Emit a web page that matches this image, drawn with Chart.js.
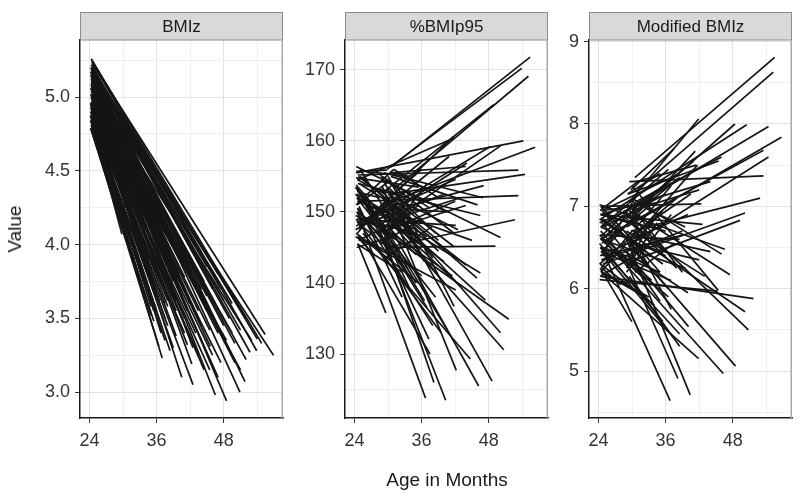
<!DOCTYPE html>
<html>
<head>
<meta charset="utf-8">
<script src="https://cdn.jsdelivr.net/npm/chart.js@4.4.1/dist/chart.umd.min.js"></script>
<style>
  html, body { margin: 0; padding: 0; background: #fff; }
  #wrap { position: relative; width: 800px; height: 496px; overflow: hidden; font-family: "Liberation Sans", Arial, sans-serif; }
  canvas { position: absolute; top: 12px; }
  .title { position: absolute; color: #1a1a1a; font-size: 19px; white-space: nowrap; transform: translate(-50%, -50%); }
  #ytitle { left: 15px; top: 229px; transform: translate(-50%, -50%) rotate(-90deg); }
  #xtitle { left: 447px; top: 480px; }
</style>
</head>
<body>
<div id="wrap">
  <canvas id="p1" width="268" height="446" style="left:18px"></canvas>
  <canvas id="p2" width="268" height="446" style="left:283px"></canvas>
  <canvas id="p3" width="268" height="446" style="left:527px"></canvas>
  <div class="title" id="ytitle">Value</div>
  <div class="title" id="xtitle">Age in Months</div>
</div>
<script>
// shared age axis
const ageTicks = [24, 30, 36, 42, 48, 54];
const ageLabels = [24, 36, 48];

// BMIz panel: one segment per child (first visit -> last visit)
const bmizAge0 = [24.3,24.5,24.6,24.4,24.5,24.8,24.4,24.6,24.3,24.5, 24.2,24.5,24.4,24.3,24.4,24.6,24.5,24.7,24.3,24.2,
  24.6,24.3,24.8,24.5,24.4,25.0,24.2,24.6,24.3,24.9, 24.5,24.7,24.4,24.2,25.2,24.3,24.6,24.5,24.8,24.4,
  24.6,25.5,24.2,24.5,24.3,24.7,24.4,25.0,24.2,24.6, 24.8,24.3,24.5,24.9,24.4,24.6,25.3,24.3,24.5,24.7,
  24.3,24.5,24.2,24.7,24.4,24.6,24.3,24.8,24.5,24.2, 24.6,24.4,24.9,24.3,24.5,24.7,24.4,24.2,24.6,24.3,
  24.5,24.8,24.4,24.6,24.3,24.7,24.2,24.5,24.4,25.0, 24.3,24.6,24.8,24.5,24.2,24.4,24.6,24.3,24.7,24.5,
  24.4,24.6,24.3,24.5,24.7,24.2,24.5,24.8,24.4,24.6, 24.3,24.5,24.9,24.4,24.6,24.2,24.7,24.5,24.3,24.6,
  24.4,24.8,24.5,24.3,24.6,24.2,24.7,24.5,24.4,24.6];
const bmizVal0 = [4.78,4.80,4.95,5.05,4.85,5.00,5.10,5.08,5.20,5.22, 5.15,5.18,5.25,5.26,5.24,5.12,5.05,4.92,4.85,4.90,
  4.82,5.00,4.76,4.88,4.95,4.80,5.02,4.98,5.12,4.86, 4.78,5.06,4.90,4.84,4.95,5.08,5.16,5.20,4.90,4.80,
  5.00,4.85,4.93,5.10,4.97,4.88,5.04,5.14,4.79,4.92, 5.02,5.18,4.87,4.98,5.00,4.84,4.90,5.22,4.95,5.10,
  5.14,4.97,5.06,4.83,5.18,5.03,4.91,5.08,4.94,5.20, 4.86,5.11,4.99,4.81,5.23,4.96,5.07,4.87,5.15,4.93,
  5.01,4.79,4.99,5.19,5.09,4.90,4.96,5.13,4.83,5.00, 5.04,4.77,5.11,4.90,5.17,4.86,5.05,5.00,4.93,5.09,
  5.00,4.92,5.08,4.85,5.03,4.95,5.12,4.89,5.06,4.97, 5.10,4.82,5.01,4.94,5.16,4.88,5.04,4.98,5.13,4.91,
  4.86,5.07,5.02,4.96,5.11,4.84,4.99,5.05,4.93,5.08];
const bmizAge1 = [36.4,37.0,40.5,42.3,38.4,45.6,46.5,48.5,50.9,51.8, 50.0,52.7,53.9,54.8,55.4,56.9,53.0,48.5,29.8,40.0,
  38.0,44.0,34.0,33.0,36.0,31.5,39.0,42.0,45.0,35.5, 32.0,47.0,43.5,41.0,37.5,41.5,49.0,46.0,39.5,35.0,
  38.5,34.5,44.5,43.0,47.5,36.8,49.5,51.0,33.5,30.5, 40.5,47.0,42.5,45.0,34.0,37.5,41.0,44.0,46.0,39.0,
  48.0,37.0,40.0,36.0,52.0,45.5,38.0,50.0,35.0,49.5, 33.0,42.0,43.5,31.0,54.0,41.5,36.5,39.0,45.0,32.5,
  47.0,30.0,44.0,40.0,38.0,45.5,34.5,52.0,37.5,33.0, 41.0,35.5,48.0,43.0,46.5,36.0,38.0,51.0,40.0,44.0,
  40.0,38.5,43.0,35.5,41.0,37.0,44.5,36.5,42.5,39.0, 46.0,34.0,40.5,38.0,47.5,35.0,42.0,39.5,45.0,37.5,
  33.5,43.5,41.5,36.0,46.5,34.5,39.5,44.0,38.5,42.5];
const bmizVal1 = [3.31,3.23,3.10,3.19,3.28,3.31,2.98,2.94,3.00,3.07, 3.33,3.27,3.28,3.33,3.39,3.25,3.35,3.35,4.07,3.55,
  3.45,3.45,3.65,3.85,3.70,4.00,3.75,3.60,3.55,3.55, 3.90,3.40,3.25,3.40,3.80,3.85,3.50,3.70,3.38,3.52,
  3.95,3.90,3.15,4.00,3.20,3.40,3.40,3.42,3.68,4.25, 3.65,3.80,3.05,3.60,4.10,3.60,3.50,3.95,3.25,4.10,
  3.62,3.95,3.90,3.55,3.50,3.42,3.62,3.20,3.98,3.60, 3.75,3.90,3.55,3.98,3.36,3.32,4.20,3.30,3.85,4.10,
  3.10,4.20,3.35,4.25,4.05,3.15,3.90,3.22,3.35,4.25, 3.70,3.48,3.45,3.40,3.60,3.80,4.10,3.15,3.75,3.70,
  3.80,3.75,3.70,3.68,3.78,3.72,3.75,3.62,3.80,3.65, 3.62,3.72,3.68,3.58,3.70,3.58,3.60,3.55,3.65,3.50,
  3.80,3.50,3.55,3.85,3.48,3.82,3.62,3.45,3.95,3.30];
const bmizTicks = [3.0,3.25,3.5,3.75,4.0,4.25,4.5,4.75,5.0,5.25];
const bmizLabels = [3.0,3.5,4.0,4.5,5.0];

// %BMIp95 panel
const pctAge0 = [30.5,29.8,31.5,29.5,24.5,30.0,28.5,24.3,29.0,24.6, 30.2,24.8,29.5,28.0,29.7,30.3,25.0,24.3,29.5,24.5,
  25.0,30.0,24.5,29.0,30.5,31.0,28.5,25.5,29.0,26.5, 29.5,24.5,24.6,30.0,24.2,24.8,29.5,24.5,30.5,24.4,
  28.5,24.8,25.5,24.6,26.0,24.4,28.5,30.5,24.2,29.0, 24.5,25.0,24.3,29.5,24.8,30.0,24.5,28.8,24.2,31.0,
  24.7,29.2,24.3,24.4,29.8,24.6,
  24.5,29.5,24.3,30.0,24.6,28.5,24.4,29.8,24.8,30.5, 24.2,29.0,24.5,30.2,24.7,28.8,24.3,29.5,24.6,30.0,
  24.4,29.2,24.8,30.8,24.5,29.0,24.3,30.5,24.9,28.5,
  24.5,29.0,24.3,30.2,24.7,28.8,24.4,30.5,24.6,29.5, 24.2,30.0,24.8,29.3,24.5,30.8,24.3,28.6,24.6,29.8];
const pctVal0 = [156.3,156.0,153.5,153.0,154.5,150.5,147.5,155.5,151.0,155.2, 152.5,151.5,150.0,147.0,145.0,155.5,148.0,156.4,145.0,152.0,
  155.0,150.0,150.0,152.0,148.5,151.0,150.5,147.0,153.5,151.5, 146.0,150.0,145.5,155.0,146.5,153.0,154.5,149.0,152.0,148.5,
  149.0,147.5,146.0,150.5,152.0,153.5,155.5,149.5,149.5,147.0, 147.0,156.0,151.0,143.5,154.0,147.0,145.5,152.5,152.5,156.0,
  149.0,149.5,155.7,145.0,146.0,152.8,
  151.5,151.5,148.0,153.5,154.0,145.5,150.0,148.0,149.5,154.0, 147.5,155.0,153.0,147.5,146.0,150.5,154.8,152.0,148.5,149.0,
  152.0,146.5,150.8,150.0,146.5,148.5,153.8,146.5,155.8,153.0,
  150.5,153.0,147.0,151.0,155.0,148.0,152.5,155.0,146.5,149.5, 153.5,152.5,148.0,155.5,151.0,148.0,149.0,151.0,154.5,150.5];
const pctAge1 = [55.4,53.9,55.1,48.9,41.8,48.3,50.1,54.2,56.3,53.3, 54.5,53.3,47.1,43.9,52.7,43.9,41.7,50.1,49.2,46.5,
  45.9,47.4,51.6,50.1,50.7,48.6,46.2,44.7,42.2,40.3, 38.2,36.7,29.6,41.8,42.1,37.3,41.8,42.1,41.8,42.1,
  44.1,40.9,37.5,38.0,35.0,33.5,36.5,39.5,31.5,35.5, 30.0,30.5,31.0,38.0,33.0,37.0,32.5,34.5,29.5,39.0,
  35.0,40.0,29.8,30.5,34.0,28.5,
  31.0,36.0,30.0,38.5,32.0,36.0,33.5,35.0,29.0,40.5, 31.5,37.5,28.8,42.0,34.0,33.0,35.5,39.0,36.0,34.5,
  38.5,37.0,32.5,45.0,27.5,43.0,30.0,40.5,34.0,46.5,
  33.0,38.0,35.5,44.0,39.0,41.5,37.0,46.0,31.0,43.0, 36.5,42.5,40.0,47.0,30.5,37.5,39.5,35.5,29.5,41.0];
const pctVal1 = [171.8,170.2,169.1,165.1,160.4,159.2,159.3,160.0,159.1,155.9, 155.3,152.3,153.7,150.9,148.9,156.4,160.6,146.4,145.2,141.4,
  140.7,137.6,134.9,133.0,130.6,126.2,125.5,129.3,127.7,123.5, 126.0,123.8,135.8,136.7,139.0,132.1,147.0,148.1,145.1,154.6,
  156.9,157.8,130.0,134.0,140.0,142.0,143.0,140.5,146.5,151.0, 152.0,149.0,156.0,148.0,150.0,154.0,141.5,146.0,148.0,152.0,
  147.0,143.0,155.9,146.5,139.0,152.0,
  149.5,156.0,151.0,147.0,152.5,149.0,145.0,144.0,146.5,150.0, 151.0,150.5,150.0,151.5,149.5,153.0,153.5,144.5,141.0,152.0,
  138.0,136.5,138.0,146.0,144.0,152.0,148.5,133.5,155.0,149.5,
  142.0,143.5,140.0,142.5,146.0,141.0,146.5,151.0,144.0,139.5, 137.5,147.5,152.5,152.0,154.5,144.5,133.0,146.0,152.5,150.0];
const pctTicks = [125,130,135,140,145,150,155,160,165,170];
const pctLabels = [130,140,150,160,170];

// Modified BMIz panel
const modAge0 = [30.5,31.0,29.5,30.0,24.5,30.5,29.0,24.3,30.0,29.5, 24.6,24.4,29.8,24.8,30.5,24.5,24.3,24.2,30.0,29.5,
  24.4,29.0,30.2,29.5,24.8,24.5,29.0,28.5,24.5,24.3, 24.6,30.0,24.2,24.3,24.6,24.4,25.0,29.0,24.2,30.5,
  24.7,29.5,24.3,28.5,24.5,30.0,24.9,29.3,24.4,30.8, 24.6,30.2,24.3,31.0,29.0,24.7,29.5,24.2,24.4,29.8,
  24.5,
  24.3,29.5,24.6,30.0,24.4,29.0,24.8,30.5,24.2,29.8, 24.5,30.2,24.7,29.3,24.3,30.8,24.5,29.0,24.6,30.0,
  24.4,29.5,24.9,30.5,24.2,29.2,24.6,30.0,24.4,
  24.5,29.0,24.3,30.2,24.7,28.8,24.4,30.5,24.6,29.5, 24.2,30.0,24.8,29.3,24.5,30.8,24.3,28.6,24.6,29.8];
const modVal0 = [7.35,7.20,7.05,6.90,6.85,7.00,6.75,6.60,6.55,7.30, 6.45,6.90,6.70,6.30,6.35,7.00,6.90,7.02,7.10,6.95,
  6.15,6.70,6.85,6.55,6.60,6.20,6.60,6.40,6.50,6.25, 6.80,7.25,6.11,6.95,6.40,6.70,6.55,6.20,6.30,6.45,
  6.85,6.85,6.50,6.95,6.25,6.60,6.75,6.40,6.60,7.30, 6.20,6.60,6.65,6.90,6.25,6.45,6.15,6.55,7.00,7.20,
  6.75,
  6.40,6.50,6.95,6.80,6.20,6.95,6.50,6.20,6.80,6.35, 6.35,7.05,6.65,6.60,6.15,6.75,6.90,6.45,6.55,6.95,
  6.45,6.30,6.95,6.65,6.65,7.15,6.25,6.45,6.75,
  6.60,6.85,6.30,6.70,6.95,6.45,6.75,7.05,6.20,6.55, 6.85,6.95,6.40,7.15,6.60,6.55,6.50,6.70,6.90,6.65];
const modAge1 = [55.5,55.25,41.9,48.4,50.5,54.4,56.7,53.5,54.4,53.5, 41.3,44.0,52.9,50.2,49.3,42.4,42.6,46.6,46.0,47.5,
  51.7,50.2,50.8,48.5,46.3,41.9,40.4,38.2,36.8,29.95, 40.1,45.4,45.3,31.0,30.5,29.5,33.0,37.0,32.0,36.5,
  33.5,38.5,35.0,34.0,30.0,40.0,36.0,35.0,39.5,41.5, 33.0,41.7,38.5,39.0,34.5,37.5,38.5,35.5,30.0,37.5,
  36.5,
  31.0,35.5,30.5,36.0,29.0,34.5,33.0,37.5,32.5,33.5, 35.5,39.5,28.5,38.0,30.5,37.0,36.0,33.0,31.5,42.0,
  37.0,36.5,35.0,44.0,33.5,35.0,28.0,39.0,30.0,
  32.5,38.0,34.0,43.0,38.5,40.0,36.0,46.0,31.0,42.0, 35.5,41.0,39.0,45.5,30.5,37.0,38.5,35.0,29.5,40.5];
const modVal1 = [8.81,8.63,8.06,8.00,7.99,7.97,7.84,7.68,7.60,7.37, 7.67,7.30,7.10,6.92,6.83,7.03,6.78,6.48,6.42,6.17,
  5.88,5.72,5.50,5.06,4.97,5.15,4.71,4.91,4.64,5.60, 5.54,5.98,5.97,7.30,7.10,6.30,7.00,6.90,6.75,6.00,
  6.40,7.35,6.20,6.50,6.70,6.90,7.15,5.85,6.25,7.50, 5.90,7.50,6.60,6.20,6.80,5.40,5.30,5.60,6.60,7.70,
  7.45,
  6.60,6.95,6.50,6.45,6.55,7.20,6.30,6.55,7.05,6.85, 6.60,6.75,6.90,7.10,6.40,7.25,6.70,6.05,6.90,7.20,
  6.10,5.90,7.05,6.45,6.10,7.40,6.05,6.70,7.00,
  6.10,6.25,5.80,6.15,7.40,5.95,6.40,7.60,5.95,6.35, 6.30,7.55,6.65,7.55,6.95,5.75,5.45,6.20,6.80,7.15];
const modTicks = [4.5,5,5.5,6,6.5,7,7.5,8,8.5,9];
const modLabels = [5,6,7,8,9];

const FONT = '"Liberation Sans", Arial, sans-serif';
const isIn = (list, v) => list.some(t => Math.abs(t - v) < 1e-6);

function stripPlugin(title) {
  return {
    id: 'strip',
    afterDraw(chart) {
      const { ctx, chartArea: a } = chart;
      ctx.save();
      ctx.fillStyle = '#d9d9d9';
      ctx.fillRect(a.left, 1, a.right - a.left, a.top - 1);
      ctx.strokeStyle = '#8c8c8c';
      ctx.lineWidth = 1;
      ctx.strokeRect(a.left + 0.5, 0.5, a.right - a.left - 1, a.top - 0.5);
      // right side of panel border
      ctx.strokeStyle = '#a8a8a8';
      ctx.lineWidth = 1.5;
      ctx.beginPath();
      ctx.moveTo(a.right - 0.75, a.top);
      ctx.lineTo(a.right - 0.75, a.bottom);
      ctx.stroke();
      ctx.fillStyle = '#1a1a1a';
      ctx.font = '17px ' + FONT;
      ctx.textAlign = 'center';
      ctx.textBaseline = 'middle';
      ctx.fillText(title, (a.left + a.right) / 2, a.top / 2 + 1);
      ctx.restore();
    }
  };
}

function makePanel(id, title, a0, v0, a1, v1, yMin, yMax, yTicks, yLabels, digits) {
  const datasets = a0.map((_, i) => ({
    data: [{ x: a0[i], y: v0[i] }, { x: a1[i], y: v1[i] }],
    borderColor: '#151515',
    borderWidth: 1.7,
    pointRadius: 0,
    fill: false,
    tension: 0
  }));
  const gridColor = list => ctx => (ctx.tick && isIn(list, ctx.tick.value)) ? '#e3e3e3' : '#efefef';
  const tickColor = list => ctx => (ctx.tick && isIn(list, ctx.tick.value)) ? '#333333' : 'rgba(0,0,0,0)';
  new Chart(document.getElementById(id), {
    type: 'line',
    data: { datasets },
    options: {
      responsive: false,
      animation: false,
      events: [],
      layout: { padding: { top: 28, right: 3, left: 0, bottom: 0 } },
      plugins: { legend: { display: false }, tooltip: { enabled: false } },
      scales: {
        x: {
          type: 'linear', min: 22.3, max: 58.6,
          afterBuildTicks: s => { s.ticks = ageTicks.map(v => ({ value: v })); },
          afterFit: s => { s.height = 40; },
          ticks: {
            autoSkip: false, maxRotation: 0, padding: 7, color: '#333333',
            font: { family: FONT, size: 18 },
            callback: v => isIn(ageLabels, v) ? String(v) : ''
          },
          grid: { color: gridColor(ageLabels), tickColor: tickColor(ageLabels), tickLength: 5, lineWidth: 1 },
          border: { color: '#1a1a1a', width: 1.5 }
        },
        y: {
          type: 'linear', min: yMin, max: yMax,
          afterBuildTicks: s => { s.ticks = yTicks.map(v => ({ value: v })); },
          afterFit: s => { s.width = 62; },
          ticks: {
            autoSkip: false, padding: 5, color: '#333333',
            font: { family: FONT, size: 18 },
            callback: v => isIn(yLabels, v) ? v.toFixed(digits) : ''
          },
          grid: { color: gridColor(yLabels), tickColor: tickColor(yLabels), tickLength: 5, lineWidth: 1 },
          border: { color: '#1a1a1a', width: 1.5 }
        }
      }
    },
    plugins: [stripPlugin(title)]
  });
}

makePanel('p1', 'BMIz', bmizAge0, bmizVal0, bmizAge1, bmizVal1, 2.824, 5.387, bmizTicks, bmizLabels, 1);
makePanel('p2', '%BMIp95', pctAge0, pctVal0, pctAge1, pctVal1, 121.0, 174.2, pctTicks, pctLabels, 0);
makePanel('p3', 'Modified BMIz', modAge0, modVal0, modAge1, modVal1, 4.43, 9.02, modTicks, modLabels, 0);
</script>
</body>
</html>
